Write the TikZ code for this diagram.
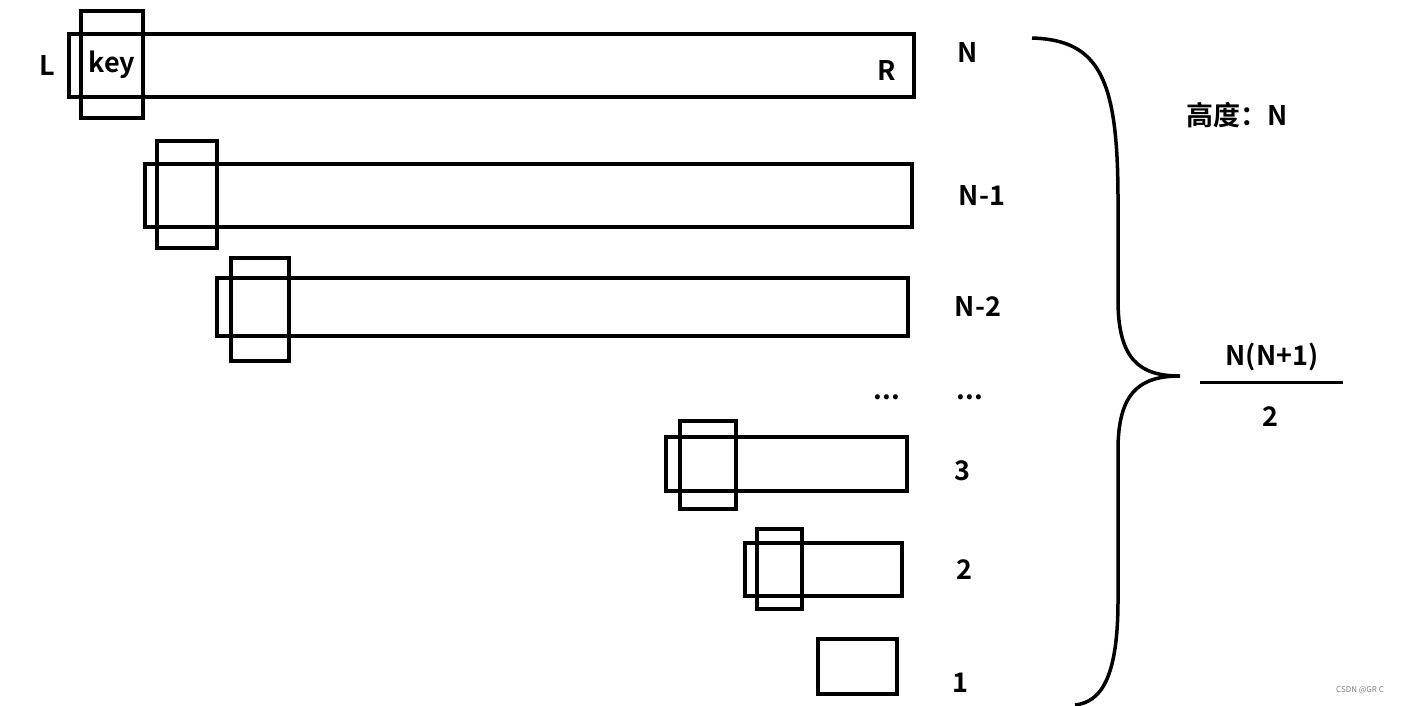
\documentclass[tikz,border=0pt]{standalone}
\usepackage{fontspec}
\setmainfont{Noto Sans CJK SC}[BoldFont={* Bold}]
\begin{document}
\begin{tikzpicture}[x=1pt,y=-1pt,
  bx/.style={draw,line width=3.5pt},
  lb/.style={font=\bfseries\fontsize{27}{29}\selectfont,inner sep=0pt}]
\useasboundingbox (0,0) rectangle (1405,705);
\draw[bx] (69,34) rectangle (914,97);
\draw[bx] (81,11) rectangle (143,118);
\draw[bx] (145,164) rectangle (912,227);
\draw[bx] (157,141) rectangle (217,248);
\draw[bx] (217,278) rectangle (908,336);
\draw[bx] (231,258) rectangle (289,361);
\draw[bx] (666,437) rectangle (907,491);
\draw[bx] (680,421) rectangle (736,509);
\draw[bx] (745,543) rectangle (902,596);
\draw[bx] (757,529) rectangle (802,609);
\draw[bx] (818,639) rectangle (897,694);
\node[lb] (L) at (47,65) {L};
\node[lb] (key) at (112,65) {key};
\node[lb] (R) at (887,70) {R};
\node[lb] (n0) at (968,52) {N};
\node[lb] (n1) at (982,195) {N-1};
\node[lb] (n2) at (978,306) {N-2};
\node[lb] (d1) at (887,397) {...};
\node[lb] (d2) at (970,397) {...};
\node[lb] (n3) at (962,471) {3};
\node[lb] (n4) at (964,570) {2};
\node[lb] (n5) at (960,683) {1};
\draw[line width=3.5pt] (1032,38) .. controls (1100,40) and (1118,80) .. (1118,200) -- (1118,300) .. controls (1118,360) and (1140,376) .. (1180,376)
  .. controls (1140,376) and (1118,392) .. (1118,450) -- (1118,600) .. controls (1118,680) and (1100,702) .. (1075,705);
\node[lb] (h) at (1237,115) {高度：N};
\node[lb] (num) at (1272,357) {N(N+1)};
\draw[line width=3pt] (1200,382) -- (1343,382);
\node[lb] (den) at (1270,417) {2};
\node[font=\fontsize{8}{9}\selectfont,text=gray] (w) at (1360,690) {CSDN @GR C};
\end{tikzpicture}
\end{document}
